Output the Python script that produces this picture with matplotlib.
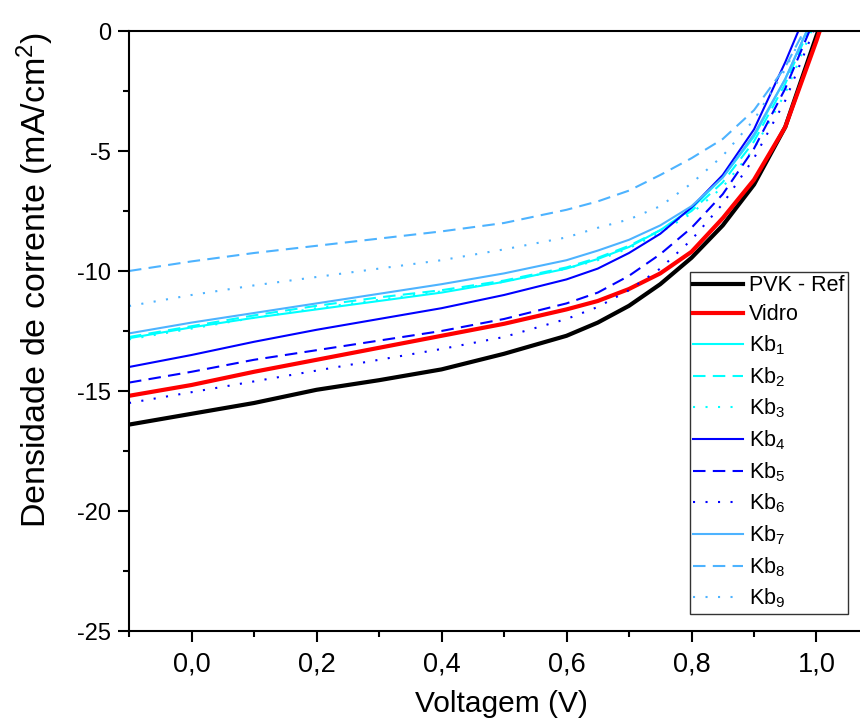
import numpy as np
import matplotlib
matplotlib.use("Agg")
import matplotlib.pyplot as plt
from matplotlib.ticker import MultipleLocator, FuncFormatter

plt.rcParams['font.family'] = ['Liberation Sans', 'DejaVu Sans']
plt.rcParams['mathtext.fontset'] = 'custom'
plt.rcParams['mathtext.rm'] = 'Liberation Sans'
plt.rcParams['mathtext.it'] = 'Liberation Sans'

# voltage points (V)
V = [-0.1, 0.0, 0.1, 0.2, 0.3, 0.4, 0.5, 0.6, 0.65, 0.7, 0.75, 0.8, 0.85, 0.9, 0.95, 1.0, 1.05]

# current density (mA/cm2)
pvk_ref = [-16.4, -15.95, -15.5, -14.95, -14.55, -14.1, -13.45, -12.7, -12.15, -11.45, -10.55, -9.45, -8.1, -6.4, -4.0, -0.2, 3.5]
vidro = [-15.2, -14.75, -14.2, -13.7, -13.2, -12.7, -12.2, -11.6, -11.25, -10.75, -10.1, -9.2, -7.8, -6.2, -4.0, -0.4, 3.5]
kb1 = [-12.8, -12.35, -11.95, -11.6, -11.25, -10.9, -10.45, -9.9, -9.5, -9.0, -8.3, -7.4, -6.1, -4.4, -2.0, 0.9, 4.0]
kb2 = [-12.75, -12.3, -11.85, -11.45, -11.1, -10.8, -10.4, -9.85, -9.45, -8.95, -8.3, -7.5, -6.3, -4.6, -2.2, 0.8, 4.0]
kb3 = [-12.85, -12.4, -11.95, -11.55, -11.2, -10.85, -10.45, -9.9, -9.55, -9.05, -8.4, -7.6, -6.5, -4.9, -2.6, 0.5, 4.0]
kb4 = [-14.0, -13.5, -12.95, -12.45, -12.0, -11.55, -11.0, -10.35, -9.9, -9.25, -8.45, -7.35, -6.0, -4.1, -1.3, 1.8, 5.0]
kb5 = [-14.65, -14.2, -13.7, -13.3, -12.9, -12.5, -12.0, -11.35, -10.9, -10.2, -9.3, -8.2, -6.8, -4.9, -2.4, 0.7, 4.0]
kb6 = [-15.5, -15.05, -14.6, -14.15, -13.7, -13.25, -12.75, -12.0, -11.5, -10.8, -9.9, -8.7, -7.2, -5.3, -2.9, 0.3, 4.0]
kb7 = [-12.6, -12.15, -11.75, -11.35, -10.95, -10.55, -10.1, -9.55, -9.15, -8.7, -8.1, -7.3, -6.1, -4.3, -2.0, 0.9, 4.0]
kb8 = [-10.0, -9.6, -9.25, -8.95, -8.65, -8.35, -8.0, -7.45, -7.1, -6.65, -6.0, -5.3, -4.5, -3.3, -1.5, 1.0, 4.0]
kb9 = [-11.46, -11.0, -10.6, -10.25, -9.9, -9.55, -9.1, -8.6, -8.2, -7.85, -7.3, -6.35, -5.2, -3.7, -1.6, 1.0, 4.0]

labels = ['PVK - Ref', 'Vidro'] + ['Kb$_{%d}$' % i for i in range(1, 10)]
series = [pvk_ref, vidro, kb1, kb2, kb3, kb4, kb5, kb6, kb7, kb8, kb9]

xticks = [0.0, 0.2, 0.4, 0.6, 0.8, 1.0]
xticklabels = ['0,0', '0,2', '0,4', '0,6', '0,8', '1,0']

cyan = '#00FFFF'
blue = '#0000FF'
lblue = '#4DB3FF'
colors = ['black', 'red', cyan, cyan, cyan, blue, blue, blue, lblue, lblue, lblue]
solid = None
dash = (6, 3.5)
dot = (1, 5)
styles = [solid, solid, solid, dash, dot, solid, dash, dot, solid, dash, dot]
widths = [3.0, 3.0] + [1.5] * 9

fig = plt.figure(figsize=(8.6, 7.22), dpi=100)
ax = fig.add_axes([129 / 860, 91 / 722, 750 / 860, 600 / 722])

for y, lab, c, ls, lw in zip(series, labels, colors, styles, widths):
    line, = ax.plot(V, y, color=c, lw=lw, label=lab)
    if ls is not None:
        line.set_dashes(ls)

ax.set_xlim(-0.1, 1.1)
ax.set_ylim(-25, 0)
ax.set_xticks(xticks, xticklabels, fontsize=19.5,
              fontfamily=['Liberation Sans Narrow', 'Liberation Sans'])
ax.xaxis.set_minor_locator(MultipleLocator(0.1))
ax.yaxis.set_major_locator(MultipleLocator(5))
ax.yaxis.set_minor_locator(MultipleLocator(2.5))
ax.yaxis.set_major_formatter(FuncFormatter(lambda v, p: '%d' % round(v)))

ax.tick_params(which='major', direction='out', length=8, width=1.5)
ax.tick_params(which='minor', direction='out', length=4.5, width=1.5)
ax.tick_params(axis='y', labelsize=17, pad=5)
ax.tick_params(axis='x', pad=7)
for s in ax.spines.values():
    s.set_linewidth(1.5)

ax.set_xlabel('Voltagem (V)', fontsize=21.5)
ax.xaxis.label.set_va('baseline')
ax.xaxis.set_label_coords(0.496, (631 - 712) / 600)
ax.set_ylabel('Densidade de corrente (mA/cm$^2$)', fontsize=24.5)
ax.yaxis.set_label_coords((56 - 129) / 750, 0.585)

leg = ax.legend(loc='upper left', bbox_to_anchor=(690 / 860, 1 - 272 / 722),
                bbox_transform=fig.transFigure, fontsize=15.5, frameon=True,
                fancybox=False, edgecolor='#333333', framealpha=1,
                handlelength=2.3, handletextpad=0.3, borderpad=0.15,
                labelspacing=0.375, borderaxespad=0)
leg.get_frame().set_linewidth(1.0)

fig.savefig('out.png', dpi=100)
